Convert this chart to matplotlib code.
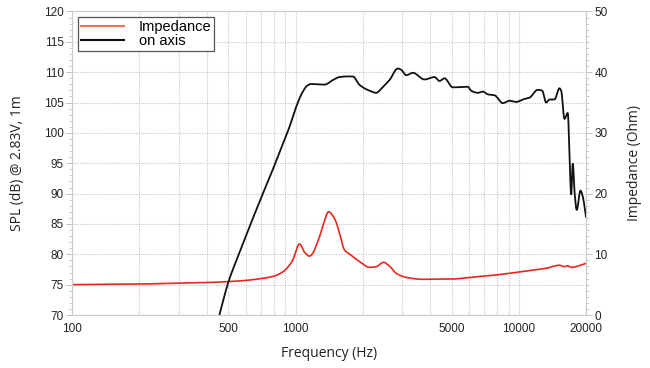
import matplotlib
matplotlib.use("Agg")
import matplotlib.pyplot as plt
from matplotlib.ticker import FixedLocator, MultipleLocator, NullFormatter, LogLocator
import numpy as np

# --- data ---
spl_freq = [456, 500, 550, 600, 650, 714, 780, 850, 940, 1007, 1078, 1130, 1176,
            1260, 1349, 1469, 1574, 1700, 1806, 1935, 2145, 2298, 2450, 2636, 2871, 2973,
            3131, 3352, 3783, 4194, 4415, 4648, 5064, 5910, 6120, 6551, 6900, 7263, 7784,
            8480, 9087, 9737, 10423, 11170, 12167, 12733, 13270, 13725, 14450, 15218,
            15490, 16020, 16580, 16850, 17170, 17450, 17800, 18180, 18890, 19350, 20000]
spl_db = [70.0, 75.4, 79.5, 83.1, 86.3, 90.0, 93.4, 96.9, 101.0, 104.3, 106.8,
          107.8, 108.06, 108.0, 107.95, 108.7, 109.2, 109.3, 109.3, 107.9, 106.95, 106.6,
          107.5, 108.7, 110.6, 110.4, 109.5, 109.9, 108.8, 109.2, 108.55, 109.0, 107.5,
          107.6, 106.95, 106.6, 106.8, 106.35, 106.2, 104.9, 105.3, 105.1, 105.5, 105.8,
          107.1, 106.95, 105.0, 105.5, 105.5, 107.35, 106.95, 102.3, 103.3, 97.2, 89.8,
          95.0, 90.0, 87.3, 90.5, 89.5, 86.2]

imp_freq = [100, 200, 300, 400, 500, 600, 700, 800, 877, 930, 972, 1042, 1100, 1155,
            1196, 1240, 1281, 1340, 1405, 1495, 1574, 1658, 1745, 1935, 2145, 2298, 2478,
            2636, 2825, 3131, 3717, 3981, 5064, 6015, 7922, 10070, 13270, 15218, 16020,
            16580, 17170, 20000]
imp_ohm = [5.0, 5.1, 5.25, 5.35, 5.5, 5.7, 6.0, 6.4, 7.1, 8.0, 9.06, 11.7, 10.3, 9.7,
           10.2, 11.5, 12.9, 15.2, 17.0, 15.9, 13.5, 10.7, 10.05, 8.8, 7.85, 7.96, 8.68,
           8.07, 6.87, 6.2, 5.88, 5.9, 5.93, 6.2, 6.6, 7.1, 7.7, 8.2, 7.96, 8.1, 7.85, 8.5]

x_ticks = [100, 500, 1000, 5000, 10000, 20000]
x_ticklabels = ["100", "500", "1000", "5000", "10000", "20000"]
spl_ticks = [70, 75, 80, 85, 90, 95, 100, 105, 110, 115, 120]
imp_ticks = [0, 10, 20, 30, 40, 50]


def pchip(xf, yv, n=900):
    """Monotone cubic (Fritsch-Carlson) through the read points, in log-frequency."""
    x = np.log10(np.asarray(xf, float))
    y = np.asarray(yv, float)
    h = np.diff(x)
    d = np.diff(y) / h
    m = np.zeros_like(y)
    m[0], m[-1] = d[0], d[-1]
    for i in range(1, len(y) - 1):
        if d[i - 1] * d[i] > 0:
            w1 = 2 * h[i] + h[i - 1]
            w2 = h[i] + 2 * h[i - 1]
            m[i] = (w1 + w2) / (w1 / d[i - 1] + w2 / d[i])
        else:
            m[i] = 0.0
    g = np.linspace(x[0], x[-1], n)
    idx = np.clip(np.searchsorted(x, g) - 1, 0, len(x) - 2)
    hh = h[idx]
    t = (g - x[idx]) / hh
    h00 = 2 * t**3 - 3 * t**2 + 1
    h10 = t**3 - 2 * t**2 + t
    h01 = -2 * t**3 + 3 * t**2
    h11 = t**3 - t**2
    out = h00 * y[idx] + h10 * hh * m[idx] + h01 * y[idx + 1] + h11 * hh * m[idx + 1]
    return 10**g, out


tick_font = "Liberation Sans"
label_font = "Open Sans"
grid_col = "#c4c4c4"

fig = plt.figure(figsize=(6.5, 3.68), dpi=100)
ax = fig.add_axes([0.1112, 0.144, 0.7903, 0.8248])
ax2 = ax.twinx()

ax.set_xscale("log")
ax.set_xlim(100, 20000)
ax.set_ylim(70, 120)
ax2.set_ylim(0, 50)

ax.set_yticks(spl_ticks)
ax.yaxis.set_minor_locator(MultipleLocator(1))
ax.xaxis.set_major_locator(FixedLocator(x_ticks))
ax.xaxis.set_minor_locator(LogLocator(base=10, subs=np.arange(1, 10), numticks=20))
ax.xaxis.set_minor_formatter(NullFormatter())
ax.set_xticklabels(x_ticklabels)
ax.grid(True, which="major", axis="y", color=grid_col, linestyle=(0, (1, 1.2)), linewidth=0.8)
ax.grid(True, which="both", axis="x", color=grid_col, linestyle=(0, (1, 1.2)), linewidth=0.8)
ax.set_axisbelow(True)

ax2.set_yticks(imp_ticks)
ax2.yaxis.set_minor_locator(MultipleLocator(1))

xs, ys = pchip(spl_freq, spl_db)
xi, yi = pchip(imp_freq, imp_ohm)
l_imp, = ax2.plot(xi, yi, color="#e8281e", linewidth=1.2)
l_spl, = ax2.plot(xs, (ys - 70.0), color="#111111", linewidth=1.3)

for a in (ax, ax2):
    for s in a.spines.values():
        s.set_color("#cccccc")
        s.set_linewidth(0.8)
ax.tick_params(axis="both", which="major", length=4, width=0.6, color="#b8b8b8",
               labelsize=8.5, labelcolor="#222222", pad=2)
ax.tick_params(axis="both", which="minor", length=2, width=0.5, color="#b8b8b8")
ax.tick_params(axis="x", which="both", length=0, pad=6)
ax2.tick_params(axis="y", which="major", length=4, width=0.6, color="#b8b8b8",
                labelsize=8.5, labelcolor="#222222", pad=2)
ax2.tick_params(axis="y", which="minor", length=2, width=0.5, color="#b8b8b8")
for lab in ax.get_xticklabels() + ax.get_yticklabels() + ax2.get_yticklabels():
    lab.set_family(tick_font)

ax.set_xlabel("Frequency (Hz)", family=label_font, fontsize=10, color="#222222", labelpad=8)
ax.set_ylabel("SPL (dB) @ 2.83V, 1m", family=label_font, fontsize=10, color="#222222", labelpad=14)
ax2.set_ylabel("Impedance (Ohm)", family=label_font, fontsize=10, color="#222222", labelpad=14)

leg = ax2.legend([l_imp, l_spl], ["Impedance", "on axis"], loc="upper left",
                 bbox_to_anchor=(0.002, 0.995), fancybox=False, framealpha=1,
                 edgecolor="#555555", prop={"family": tick_font, "size": 10.5},
                 handlelength=3.0, handletextpad=1.0, borderpad=0.2, labelspacing=0.0,
                 borderaxespad=0.3)
leg.get_frame().set_linewidth(0.9)
leg.get_lines()[0].set_color("#f07060")
leg.get_lines()[0].set_linewidth(1.5)
leg.get_lines()[1].set_linewidth(1.5)

fig.savefig("out.png", dpi=100)
